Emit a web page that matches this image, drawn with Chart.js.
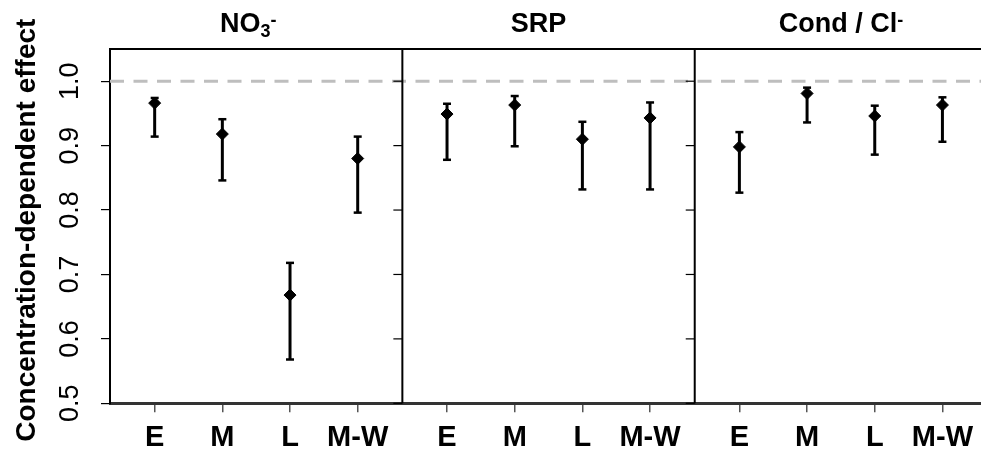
<!DOCTYPE html>
<html>
<head>
<meta charset="utf-8">
<script src="https://cdn.jsdelivr.net/npm/chart.js@4.4.1/dist/chart.umd.min.js"></script>
<style>
html,body{margin:0;padding:0;background:#fff;overflow:hidden}
#wrap{width:981px;height:455px;position:relative}
</style>
</head>
<body>
<div id="wrap"><canvas id="c" width="981" height="455"></canvas></div>
<script>
// ---- data ----
const categories = ['E', 'M', 'L', 'M-W'];
const titleMain = ['NO', 'SRP', 'Cond / Cl'];
const titleSub = ['3', '', ''];
const titleSup = ['-', '', '-'];
const yTicks = [0.5, 0.6, 0.7, 0.8, 0.9, 1.0];
const yTickLabels = ['0.5', '0.6', '0.7', '0.8', '0.9', '1.0'];
const yAxisTitle = 'Concentration-dependent effect';
const refLine = 1.0;

const no3Est = [0.966, 0.918, 0.668, 0.880];
const no3Lo  = [0.914, 0.846, 0.568, 0.796];
const no3Hi  = [0.974, 0.941, 0.718, 0.914];

const srpEst = [0.949, 0.963, 0.910, 0.943];
const srpLo  = [0.878, 0.899, 0.832, 0.832];
const srpHi  = [0.965, 0.977, 0.937, 0.967];

const condEst = [0.898, 0.981, 0.946, 0.963];
const condLo  = [0.827, 0.936, 0.886, 0.906];
const condHi  = [0.921, 0.990, 0.962, 0.975];

// ---- layout of panels in x units ----
const SPAN = 4.32;     // width of one panel in x units
const OFF = 0.66;      // distance from panel left edge to first category
const FONT = '"Liberation Sans", Arial, Helvetica, sans-serif';

const series = [
  {est: no3Est, lo: no3Lo, hi: no3Hi},
  {est: srpEst, lo: srpLo, hi: srpHi},
  {est: condEst, lo: condLo, hi: condHi}
];

const tickPositions = [];
series.forEach((s, p) => categories.forEach((c, j) => tickPositions.push(p * SPAN + OFF + j)));

const datasets = series.map((s, p) => ({
  label: titleMain[p] + titleSub[p] + titleSup[p],
  data: s.est.map((v, j) => ({x: p * SPAN + OFF + j, y: v})),
  lo: s.lo,
  hi: s.hi,
  pointStyle: 'rectRot',
  pointRadius: 6,
  pointBorderWidth: 1,
  backgroundColor: '#000',
  borderColor: '#000',
  showLine: false,
  clip: false
}));

const custom = {
  id: 'custom',
  beforeDatasetsDraw(chart) {
    const {ctx, chartArea: ca, scales: {x, y}} = chart;
    // reference dashed line
    ctx.save();
    ctx.strokeStyle = '#BEBEBE';
    ctx.lineWidth = 3;
    ctx.setLineDash([14, 9.5]);
    const yr = y.getPixelForValue(refLine);
    ctx.beginPath(); ctx.moveTo(ca.left, yr); ctx.lineTo(ca.right, yr); ctx.stroke();
    ctx.restore();
    // error bars
    ctx.save();
    ctx.strokeStyle = '#000';
    chart.data.datasets.forEach(ds => {
      ds.data.forEach((pt, j) => {
        const px = x.getPixelForValue(pt.x);
        const y1 = y.getPixelForValue(ds.lo[j]);
        const y2 = y.getPixelForValue(ds.hi[j]);
        ctx.lineWidth = 3;
        ctx.beginPath(); ctx.moveTo(px, y1); ctx.lineTo(px, y2); ctx.stroke();
        ctx.lineWidth = 2.5;
        [y1, y2].forEach(yy => {
          ctx.beginPath(); ctx.moveTo(px - 4, yy); ctx.lineTo(px + 4, yy); ctx.stroke();
        });
      });
    });
    ctx.restore();
  },
  afterDraw(chart) {
    const {ctx, chartArea: ca, scales: {x, y}} = chart;
    ctx.save();
    // top border
    ctx.strokeStyle = '#000';
    ctx.lineWidth = 2;
    ctx.beginPath(); ctx.moveTo(ca.left - 1, ca.top); ctx.lineTo(ca.right, ca.top); ctx.stroke();
    // panel separators + their ticks
    for (let p = 1; p < 3; p++) {
      const px = x.getPixelForValue(p * SPAN);
      ctx.lineWidth = 2;
      ctx.beginPath(); ctx.moveTo(px, ca.top); ctx.lineTo(px, ca.bottom); ctx.stroke();
      ctx.lineWidth = 1.2;
      yTicks.forEach(v => {
        const py = y.getPixelForValue(v);
        ctx.beginPath(); ctx.moveTo(px - 9, py); ctx.lineTo(px, py); ctx.stroke();
      });
    }
    // y tick labels (rotated)
    ctx.fillStyle = '#000';
    ctx.font = '27px ' + FONT;
    ctx.textAlign = 'center';
    ctx.textBaseline = 'alphabetic';
    yTicks.forEach((v, i) => {
      const py = y.getPixelForValue(v);
      ctx.save();
      ctx.translate(78, py);
      ctx.rotate(-Math.PI / 2);
      ctx.fillText(yTickLabels[i], 0, 0);
      ctx.restore();
    });
    // y axis title
    ctx.font = 'bold 28px ' + FONT;
    ctx.save();
    ctx.translate(35, (ca.top + ca.bottom) / 2 + 4);
    ctx.rotate(-Math.PI / 2);
    ctx.fillText(yAxisTitle, 0, 0);
    ctx.restore();
    // panel titles
    const shifts = [-8, -10, 0];
    for (let p = 0; p < 3; p++) {
      const cx = x.getPixelForValue(p * SPAN + SPAN / 2) + shifts[p];
      const mainF = 'bold 27px ' + FONT, smallF = 'bold 18px ' + FONT;
      ctx.font = mainF; const wm = ctx.measureText(titleMain[p]).width;
      ctx.font = smallF;
      const ws = titleSub[p] ? ctx.measureText(titleSub[p]).width : 0;
      const wp = titleSup[p] ? ctx.measureText(titleSup[p]).width : 0;
      const total = wm + ws + wp;
      let sx = cx - total / 2;
      const base = 32;
      ctx.textAlign = 'left';
      ctx.font = mainF; ctx.fillText(titleMain[p], sx, base); sx += wm;
      ctx.font = smallF;
      if (titleSub[p]) { ctx.fillText(titleSub[p], sx, base + 5); sx += ws; }
      if (titleSup[p]) { ctx.fillText(titleSup[p], sx, base - 6); }
    }
    ctx.restore();
  }
};

new Chart(document.getElementById('c'), {
  type: 'scatter',
  data: {datasets},
  options: {
    responsive: false,
    animation: false,
    devicePixelRatio: 1,
    layout: {autoPadding: false, padding: {top: 49, left: 0, right: 0, bottom: 0}},
    plugins: {legend: {display: false}, tooltip: {enabled: false}, title: {display: false}},
    scales: {
      x: {
        type: 'linear',
        min: 0,
        max: 12.87,
        afterBuildTicks: s => { s.ticks = tickPositions.map(v => ({value: v})); },
        afterFit: s => { s.height = 51.7; s.paddingLeft = 0; s.paddingRight = 0; },
        ticks: {
          autoSkip: false, maxRotation: 0, minRotation: 0, padding: 8,
          color: '#000',
          font: {family: FONT, size: 29, weight: 'bold'},
          callback: (v, i) => categories[i % categories.length]
        },
        grid: {drawOnChartArea: false, drawTicks: true, tickLength: 9, color: '#555', lineWidth: 1.5},
        border: {display: true, color: '#333', width: 3}
      },
      y: {
        type: 'linear',
        min: 0.5,
        max: 1.05,
        afterBuildTicks: s => { s.ticks = yTicks.map(v => ({value: v})); },
        afterFit: s => { s.width = 110; s.paddingTop = 0; s.paddingBottom = 0; },
        ticks: {display: false, stepSize: 0.1},
        grid: {drawOnChartArea: false, drawTicks: true, tickLength: 9, color: '#000', lineWidth: 1.2},
        border: {display: true, color: '#000', width: 2}
      }
    }
  },
  plugins: [custom]
});
</script>
</body>
</html>
